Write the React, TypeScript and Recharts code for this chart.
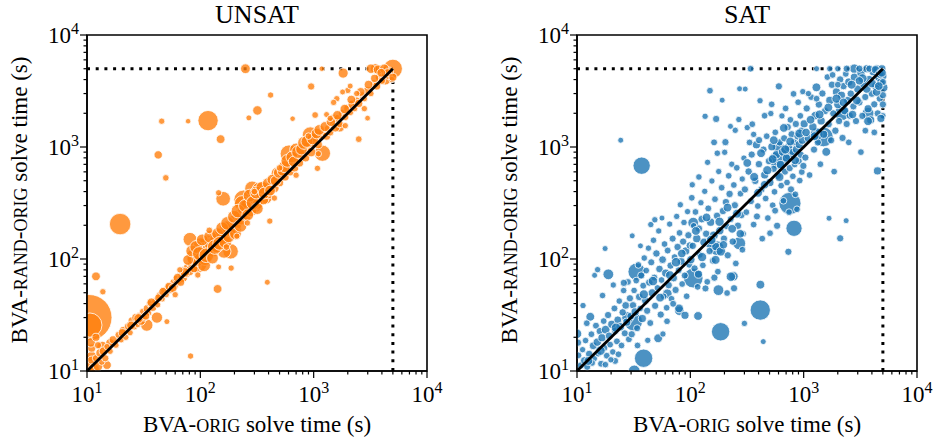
import { ScatterChart, Scatter, XAxis, YAxis, ZAxis, ReferenceLine, ReferenceArea } from "recharts";

const FONT = '"Liberation Serif", "DejaVu Serif", serif';

const ALL_TICKS = [
  10, 20, 30, 40, 50, 60, 70, 80, 90,
  100, 200, 300, 400, 500, 600, 700, 800, 900,
  1000, 2000, 3000, 4000, 5000, 6000, 7000, 8000, 9000, 10000,
];
const MAJOR_TICKS = [10, 100, 1000, 10000];
const TICK_EXP: Record<number, string> = { 10: "1", 100: "2", 1000: "3", 10000: "4" };

const TIMEOUT = 5000;
const TITLES = ["UNSAT", "SAT"];

// [BVA-orig time, BVA-rand-orig time, bubble size]
const unsatPoints: [number, number, number][] = [
  [10.4, 30, 85], [10.6, 25.7, 23], [19.6, 205, 18], [117, 1720, 16], [42.5, 850, 2.2],
  [45.6, 1700, 1], [49.6, 530, 1.1], [78, 1700, 0.6], [12, 70, 2.5], [13.8, 51, 1],
  [82, 13.6, 1], [151, 1175, 2.5], [159, 345, 8], [145, 390, 1], [142, 54, 2.5],
  [390, 62, 0.8], [250, 5000, 3.2], [319, 2120, 3], [268, 1820, 0.8], [417, 2910, 1],
  [410, 218, 1], [950, 3470, 1.5], [1030, 1930, 1.2], [652, 1790, 0.6], [1820, 4570, 3.5],
  [1180, 5000, 0.6], [1195, 880, 10], [2500, 1175, 1.2], [2990, 1810, 0.7], [5000, 5000, 14],
  [1080, 645, 1], [187, 83, 1], [145, 85, 0.8], [50.7, 27.6, 0.8], [41.4, 30, 4.5],
  [33.7, 25.7, 5.5], [17, 17.8, 1], [81, 150, 7], [116, 140, 9], [95, 91, 13],
  [90, 85, 5], [193, 184, 12], [185, 117, 9], [241, 337, 15], [286, 427, 8],
  [234, 314, 9], [606, 870, 12], [935, 1280, 10], [101, 133, 8], [88, 105, 9],
  [162, 117, 7], [11, 13.4, 4], [13.6, 16.5, 4], [16, 17.8, 2.5], [15, 11.3, 2.5],
  [700, 950, 6], [330, 420, 7], [300, 300, 8], [480, 580, 6], [380, 350, 5],
  [3500, 5000, 3.5], [4300, 4000, 4], [4600, 4700, 3], [1700, 1500, 3], [2200, 2400, 2.5],
  [1500, 1800, 2.5],
  [10.5, 11, 3], [11, 12.5, 2], [11.5, 10.5, 4], [12, 13, 1.5], [12.5, 11, 3],
  [13, 14.5, 2], [13.5, 12, 1], [14, 15, 2.5], [14.5, 13, 1.5], [15, 16.5, 1],
  [11, 16, 2], [10.8, 18, 3], [12, 20, 2], [12.5, 17, 1.5], [16, 15, 1],
  [17, 19, 2], [18, 17, 1], [19, 21, 1.5], [20, 19, 1], [21, 23, 2],
  [22, 20, 1], [23, 25, 1.5], [24, 22, 1], [25, 28, 2], [26, 25, 1.5],
  [27, 30, 2], [28, 26, 1], [29, 31, 1.5], [30, 28, 2.5], [31, 34, 1],
  [32, 30, 1.5], [34, 36, 2], [35, 33, 1], [36, 40, 1.5], [38, 37, 2],
  [40, 42, 1.5], [42, 39, 1], [44, 47, 2], [46, 44, 1], [48, 52, 1.5],
  [50, 48, 1], [52, 55, 2], [55, 53, 1.5], [58, 62, 1.5], [60, 57, 1],
  [62, 66, 2], [65, 64, 1.5], [68, 72, 2], [70, 68, 3], [72, 80, 1.5],
  [75, 74, 2], [78, 85, 2.5], [80, 78, 3], [82, 90, 1.5], [85, 100, 4],
  [88, 82, 2], [92, 110, 3], [95, 98, 6], [100, 105, 5], [105, 125, 4],
  [110, 100, 6], [115, 120, 5], [125, 135, 7], [130, 118, 5], [135, 150, 4],
  [140, 130, 6], [150, 165, 6], [160, 150, 5], [170, 190, 7], [185, 170, 4],
  [200, 220, 5], [210, 200, 3], [220, 250, 4], [230, 230, 6], [240, 280, 5],
  [250, 240, 4], [260, 300, 7], [280, 270, 5], [300, 350, 6], [320, 310, 4],
  [340, 380, 5], [360, 340, 4], [380, 420, 4], [400, 380, 3], [420, 460, 3],
  [450, 430, 3], [480, 520, 3], [500, 480, 2], [520, 560, 2.5], [560, 540, 2],
  [600, 650, 3], [620, 600, 2], [650, 700, 2], [680, 650, 2], [720, 800, 3],
  [750, 720, 2], [800, 850, 3], [850, 800, 2], [900, 1000, 4], [950, 900, 3],
  [1000, 1100, 2.5], [1100, 1050, 2], [1150, 1250, 2], [1200, 1300, 3], [1300, 1250, 2],
  [1350, 1450, 2], [1400, 1350, 1.5], [1500, 1600, 2], [1550, 1500, 3], [1650, 1800, 2],
  [1700, 1600, 1.5], [1800, 2000, 2], [1900, 1850, 1.5], [2000, 2200, 2], [2100, 2050, 1.5],
  [2200, 2400, 2.5], [2300, 2200, 1], [2400, 2600, 1.5], [2500, 2450, 2], [2700, 2900, 1.5],
  [2800, 2700, 1], [3000, 3200, 2], [3200, 3000, 1], [3400, 3700, 1.5], [3600, 3500, 2],
  [3800, 4200, 2], [4000, 3900, 1.5], [4300, 4500, 2], [4600, 4300, 1.5], [4900, 4000, 1],
  [2000, 3200, 1], [1600, 2700, 1], [1800, 3100, 0.8], [2100, 3500, 0.8], [1500, 2500, 1],
  [1300, 1950, 0.8], [3200, 5000, 3], [3700, 4900, 3], [4200, 5000, 3], [4500, 4600, 2],
  [5000, 4200, 2],
  [78, 98, 4], [84, 118, 5], [92, 128, 6], [98, 112, 7], [104, 148, 5],
  [108, 88, 6], [113, 108, 8], [122, 158, 6], [128, 102, 5], [134, 128, 8],
  [142, 168, 5], [148, 138, 7], [156, 188, 6], [166, 142, 6], [174, 208, 7],
  [178, 158, 5], [198, 238, 6], [204, 168, 5], [215, 268, 7], [226, 198, 6],
  [248, 298, 6], [262, 248, 5], [272, 368, 6], [292, 318, 7], [312, 392, 6],
  [318, 282, 5], [352, 432, 6], [366, 388, 5], [398, 472, 5], [412, 408, 4],
  [432, 512, 4], [462, 498, 4], [492, 588, 4], [532, 612, 4], [552, 668, 5],
  [586, 752, 6], [642, 812, 5], [666, 742, 4], [728, 902, 6], [782, 958, 5],
  [822, 1088, 6], [872, 1120, 5], [982, 1180, 5], [1060, 1320, 4], [1120, 1420, 4],
  [1260, 1520, 3.5], [1420, 1680, 3], [1620, 1920, 3], [1880, 2180, 3], [2150, 2650, 2.5],
  [2600, 3100, 2.5], [3050, 3600, 2.5], [3450, 4100, 2], [3950, 4600, 2.5],
  [20.5, 22, 2], [24.5, 25.5, 2.5], [28.5, 29.5, 3], [33, 31, 2], [37, 41, 2.5],
  [43, 45, 2], [47, 51, 2.5], [53, 57, 2], [57, 55, 2.5], [63, 68, 2.5],
  [67, 62, 2], [73, 76, 3],
  [60, 48, 1], [66, 80, 1], [95, 72, 1], [120, 180, 1.2], [170, 128, 1.2],
  [210, 160, 1], [260, 210, 1], [300, 400, 1.2], [450, 350, 1], [500, 650, 1.2],
  [700, 560, 1], [900, 1250, 1.2], [1100, 870, 1], [1400, 1800, 1], [1900, 1550, 1],
  [2400, 3000, 1], [2800, 2200, 1],
];

const satPoints: [number, number, number][] = [
  [37.2, 681, 11.5], [24.3, 1150, 0.8], [33.6, 77, 11.5], [18.9, 73, 4], [31.4, 27.6, 13],
  [38.7, 13, 13], [32, 10, 5], [52, 19.6, 2.5], [106, 67.5, 15], [185, 22.4, 13],
  [414, 35, 16], [757, 314, 19], [822, 188, 10], [1493, 1230, 15], [598, 766, 13],
  [2170, 2000, 8], [177, 52.7, 4], [169, 1780, 1.5], [4480, 612, 2], [2100, 153, 1.5],
  [2370, 220, 0.8], [1675, 231, 0.8], [440, 18.3, 0.8], [300, 26.6, 1], [733, 116, 1.5],
  [415, 59, 2.5], [10, 21.5, 3], [17.7, 124, 0.8], [270, 138, 6], [171, 125, 8],
  [106, 211, 4], [62.7, 49, 3], [80, 34.5, 3], [117, 31, 2.5], [240, 70, 3],
  [757, 870, 7], [1300, 1300, 6], [2800, 5000, 3], [3700, 2000, 5], [5000, 3400, 3.5],
  [150, 140, 5], [28, 30, 5], [600, 1000, 5],
  [10.3, 13.8, 1.2], [10.8, 11.2, 1.5], [11.2, 15.5, 1], [11.6, 12.4, 1.8], [11.9, 18.7, 1.1],
  [12.3, 10.9, 1.4], [12.8, 14.2, 1.6], [13.1, 30.5, 2.5], [13.4, 21.3, 1.2], [13.9, 16.8, 1.9],
  [14.2, 12.9, 1.1], [14.7, 25.4, 1.3], [15.1, 18.1, 2.2], [15.4, 14.3, 1.2], [15.9, 22.7, 1.6],
  [16.3, 11.6, 1.3], [16.6, 19.8, 2], [17.2, 27.9, 1.2], [17.4, 16.1, 1.5], [17.9, 23.4, 2.4],
  [18.3, 13.7, 1.2], [18.8, 31.6, 1.5], [19.2, 20.6, 1.8], [19.6, 17.2, 1.2], [20.3, 26.1, 2.1],
  [20.7, 14.8, 1.1], [21.4, 36.2, 1.3], [21.8, 22.9, 1.7], [22.5, 18.4, 1.3], [22.9, 28.6, 1.9],
  [23.6, 42.1, 1.1], [24.1, 24.8, 2.3], [24.7, 16.9, 1.2], [25.3, 33.4, 1.6], [25.8, 52.3, 1.1],
  [26.4, 21.7, 1.4], [26.9, 38.5, 1.8], [27.5, 27.3, 2], [28.2, 62.4, 1.2], [28.7, 19.2, 1.3],
  [29.3, 44.6, 1.5], [29.8, 30.9, 1.9], [12.2, 26.7, 1.2], [11.3, 38.4, 1], [14.3, 71.5, 0.8],
  [15.2, 80.3, 1], [16.8, 47.2, 1.1], [20.9, 58.6, 1], [25.9, 61.2, 1.5], [21.7, 12.3, 1.3],
  [17.8, 11.4, 1.1], [10.2, 17.9, 1.5], [13.6, 11.8, 1.2], [19.9, 12.6, 1], [23.2, 14.1, 1.2],
  [12.6, 12.3, 2.5], [16.1, 15.2, 3], [22.1, 24.3, 3],
  [30.4, 21.3, 1.5], [31.2, 38.6, 1.6], [31.9, 52.4, 1.1], [32.6, 33.7, 2.1], [33.3, 64.2, 1.2],
  [33.9, 24.1, 1.4], [34.8, 88.5, 1.2], [35.4, 45.9, 1.7], [36.1, 36.2, 1.1], [36.9, 71.3, 1.5],
  [37.7, 29.4, 2], [38.4, 57.8, 1.3], [39.2, 102, 1.1], [40.1, 42.6, 1.8], [40.8, 78.9, 1.2],
  [41.6, 34.5, 1.5], [42.7, 125, 1], [43.4, 61.7, 1.6], [44.3, 26.8, 1.3], [45.2, 93.4, 1.4],
  [46.1, 49.8, 2.2], [47.3, 147, 1.1], [48.1, 68.3, 1.3], [48.9, 38.2, 1.5], [50.2, 112, 1.6],
  [51.3, 55.1, 1.2], [52.6, 178, 1], [53.4, 81.5, 1.7], [54.8, 31.9, 1.5], [55.7, 64.9, 1.2],
  [56.9, 98.7, 1.8], [58.1, 46.3, 1.3], [59.2, 136, 1.2], [60.6, 74.8, 2], [61.8, 36.7, 1.2],
  [63.1, 119, 1.3], [64.4, 58.4, 1.6], [65.7, 205, 1], [66.9, 87.3, 1.5], [68.2, 44.1, 1.2],
  [69.8, 152, 1.4], [71.3, 67.6, 1.8], [72.6, 104, 1.2], [74.1, 52.9, 1.5], [75.8, 240, 1],
  [77.2, 128, 1.6], [78.9, 79.4, 1.3], [80.3, 171, 1.2], [81.6, 305, 1], [83.2, 95.3, 1.9],
  [84.7, 59.8, 1.2], [86.4, 143, 1.5], [87.9, 212, 1.1], [89.3, 71.2, 1.4], [91.2, 118, 2],
  [92.8, 46.5, 1.2], [94.5, 265, 1], [96.1, 163, 1.5], [97.8, 88.9, 1.3], [99.1, 132, 1.7],
  [44.8, 203, 1], [48.6, 224, 1], [56.2, 232, 0.8], [30.7, 161, 0.8], [36.3, 131, 0.8],
  [79.5, 36.2, 2.5], [89.7, 31.4, 2], [62.3, 27.8, 1.2], [70.5, 39.8, 1.3], [57.3, 21.4, 1],
  [34.2, 16.9, 1.2], [42.1, 18.8, 1], [46.8, 63.5, 3], [54.1, 45.2, 2.5], [38.9, 48.3, 2.8],
  [66.1, 71.7, 2.6], [74.8, 93.6, 3], [84.1, 112, 2.4],
  [101, 98.6, 2.2], [103, 352, 1.2], [105, 131, 1.6], [107, 198, 1.1], [109, 82.3, 1.5],
  [111, 263, 1.2], [114, 152, 2.1], [116, 56.4, 1.2], [119, 187, 1.6], [121, 109, 1.3],
  [124, 318, 1], [126, 227, 1.7], [129, 87.8, 1.2], [132, 141, 2.2], [134, 402, 1],
  [138, 168, 1.6], [141, 62.5, 1.2], [144, 283, 1.3], [148, 118, 1.6], [151, 213, 2.1],
  [155, 497, 1], [158, 96.4, 1.3], [161, 162, 2.6], [165, 342, 1.2], [168, 129, 2.1],
  [172, 243, 1.6], [175, 77.1, 1.2], [178, 604, 1], [182, 179, 2.2], [186, 117, 3],
  [189, 433, 1.2], [194, 268, 1.6], [198, 152, 1.5], [201, 897, 1], [206, 322, 1.6],
  [209, 196, 1.2], [214, 108, 1.5], [218, 553, 1.2], [222, 381, 1.6], [227, 227, 1.3],
  [232, 702, 1], [237, 143, 1.6], [242, 458, 1.2], [247, 302, 1.5], [252, 91.2, 1.2],
  [257, 652, 1.2], [263, 198, 1.6], [272, 3310, 0.8], [277, 383, 1.2], [282, 247, 1.6],
  [287, 518, 1], [292, 168, 1.2], [297, 796, 1], [243, 54.8, 1.5], [211, 49.7, 1.2],
  [228, 69.5, 3], [191, 2620, 0.8], [149, 3180, 1.2], [204, 1105, 1.5], [288, 121, 1.2],
  [112, 178, 2.5], [127, 104, 2.8], [139, 235, 2.4], [153, 148, 3], [167, 98.2, 2.6],
  [181, 215, 2.8], [196, 134, 2.2], [213, 288, 2.5], [234, 186, 2.4], [258, 254, 2.6],
  [276, 168, 2.3], [118, 73.2, 2], [136, 54.6, 1.4], [163, 68.1, 1.5], [104, 460, 1],
  [119, 540, 1.1], [142, 730, 1], [173, 880, 1.1], [249, 1410, 1], [268, 1760, 1],
  [226, 1530, 0.8], [135, 1880, 1], [162, 1100, 1.3],
  [303, 418, 1.5], [312, 262, 1.2], [318, 1490, 1], [327, 604, 1.6], [343, 328, 1.3],
  [348, 856, 1.5], [362, 203, 1.2], [374, 498, 1.6], [383, 1046, 2], [394, 297, 1.2],
  [403, 703, 1.6], [412, 2590, 1], [423, 418, 1.6], [431, 152, 1.2], [442, 948, 1.5],
  [453, 563, 2], [462, 347, 1.2], [472, 1248, 1.2], [483, 232, 1.2], [494, 748, 1.6],
  [503, 482, 2.1], [513, 1990, 1], [524, 1004, 2], [533, 302, 1.2], [544, 638, 1.5],
  [553, 398, 1.2], [562, 1352, 1.2], [574, 853, 2], [583, 198, 1.5], [592, 553, 1.5],
  [604, 3480, 1.5], [613, 1098, 1.5], [624, 697, 2.1], [633, 452, 1.2], [643, 1895, 1],
  [654, 904, 2.5], [663, 331, 1.2], [673, 1196, 1.5], [684, 603, 1.5], [693, 2210, 1.2],
  [704, 797, 2.1], [713, 482, 1.2], [724, 1505, 1.5], [734, 996, 2.5], [743, 262, 1.2],
  [753, 648, 1.5], [764, 1748, 1.2], [773, 418, 1.5], [784, 1298, 1.6], [794, 903, 1.5],
  [803, 548, 1.2], [814, 2980, 1.2], [823, 1102, 1.5], [833, 698, 1.2], [844, 378, 1.2],
  [853, 1605, 1.5], [864, 952, 2], [873, 278, 1.2], [883, 1248, 1.6], [894, 2510, 1.2],
  [903, 748, 1.5], [914, 1052, 2], [923, 502, 1.2], [934, 1898, 1.2], [943, 852, 1.5],
  [954, 1402, 1.5], [963, 598, 1.2], [974, 1148, 2], [983, 3120, 1], [994, 678, 1.5],
  [352, 1598, 1.2], [305, 3290, 0.8], [452, 1902, 1.2], [522, 2405, 1.2], [404, 1152, 1.5],
  [362, 1296, 1], [333, 1098, 1.2], [318, 720, 2.4], [366, 540, 2.6], [421, 880, 2.5],
  [478, 620, 2.8], [545, 1150, 2.4], [612, 540, 2.6], [688, 950, 2.8], [761, 1120, 2.5],
  [842, 760, 2.4], [918, 1320, 2.8], [396, 390, 2.5], [452, 460, 2.3], [532, 780, 2.6],
  [668, 1480, 2.4], [387, 240, 1.4], [560, 270, 1.3], [505, 170, 1.2],
  [1010, 1610, 2], [1035, 805, 1.5], [1064, 2210, 1.5], [1102, 1195, 2.2], [1128, 562, 1.2],
  [1163, 2790, 1.2], [1206, 1510, 2.1], [1234, 948, 1.5], [1262, 1905, 2.2], [1296, 3410, 2.5],
  [1334, 1098, 1.5], [1362, 2395, 1.6], [1404, 702, 1.2], [1426, 1710, 2.1], [1463, 3005, 1.5],
  [1502, 1298, 2], [1544, 2095, 1.6], [1583, 905, 2.5], [1618, 4210, 1.2], [1664, 1598, 1.5],
  [1703, 2605, 2.1], [1745, 1148, 1.5], [1776, 3595, 1.6], [1824, 1995, 1.5], [1858, 603, 1.2],
  [1904, 1398, 1.6], [1946, 3105, 2], [2004, 2395, 2.2], [2053, 1705, 1.5], [2098, 4005, 1.6],
  [2154, 2895, 2], [2203, 1205, 1.5], [2247, 3495, 1.6], [2305, 2105, 2], [2352, 4495, 1.2],
  [2396, 1605, 1.5], [2454, 2595, 2.2], [2503, 3805, 2], [2547, 1905, 1.5], [2604, 2995, 1.6],
  [2745, 2305, 1.5], [2806, 4195, 2.1], [2896, 1705, 1.5], [3004, 3295, 2], [3096, 2505, 1.6],
  [3205, 4595, 2.1], [3296, 1895, 1.5], [3404, 3605, 2.2], [3495, 2795, 1.5], [3604, 4995, 2],
  [3704, 2195, 2], [3796, 3995, 2.2], [3904, 1745, 2], [3996, 2995, 1.6], [4104, 4695, 2],
  [4196, 2405, 1.5], [4304, 3495, 2.2], [4396, 4995, 2], [4504, 1995, 1.5], [4596, 4195, 2],
  [4704, 2705, 1.6], [4796, 3795, 2.2], [4900, 4990, 2], [5000, 4300, 2], [5000, 2400, 1.5],
  [5000, 1900, 1], [5000, 2900, 1.5], [5000, 3800, 1.5], [4800, 1800, 2], [3700, 1700, 2.5],
  [3500, 1400, 1.2], [4200, 1350, 1.2], [3200, 900, 1.2], [2500, 1100, 1.2], [1800, 4400, 1.2],
  [2000, 3600, 1.2], [1300, 2700, 1.2], [1100, 3000, 1], [340, 5000, 1.2], [1300, 5000, 0.8],
  [1700, 5000, 1], [2000, 5000, 1], [2400, 5000, 1.5], [3100, 5000, 1.5], [3800, 5000, 1.5],
  [4300, 4900, 2], [1150, 1750, 2.4], [1380, 1950, 2.6], [1650, 2250, 2.5], [1950, 2700, 2.8],
  [2250, 2500, 2.4], [2650, 3600, 2.6], [2950, 2600, 2.5], [3300, 4100, 2.8], [3600, 3300, 2.4],
  [4000, 3700, 2.6], [4400, 3100, 2.4], [4700, 4500, 2.5], [3100, 3900, 2.2], [2700, 1950, 2.2],
  [1250, 1250, 2.5], [1050, 1350, 2.3], [4900, 4600, 2.5], [4600, 3500, 2.4],
];

const toRows = (pts: [number, number, number][]) => pts.map(([x, y, z]) => ({ x, y, z }));

const XTick = (props: any) => {
  const { x, y, payload } = props;
  const v = payload.value;
  const major = MAJOR_TICKS.includes(v);
  return (
    <g>
      <line x1={x} x2={x} y1={y} y2={y + (major ? 7 : 3.5)} stroke="#000" strokeWidth={1.2} />
      {major && (
        <text x={x} y={y + 31} textAnchor="middle" fontSize={23} fontFamily={FONT} fill="#000">
          10<tspan dy={-9} fontSize={16}>{TICK_EXP[v]}</tspan>
        </text>
      )}
    </g>
  );
};

const YTick = (props: any) => {
  const { x, y, payload } = props;
  const v = payload.value;
  const major = MAJOR_TICKS.includes(v);
  return (
    <g>
      <line x1={x - (major ? 7 : 3.5)} x2={x} y1={y} y2={y} stroke="#000" strokeWidth={1.2} />
      {major && (
        <text x={x - 8} y={y + 8} textAnchor="end" fontSize={23} fontFamily={FONT} fill="#000">
          10<tspan dy={-9} fontSize={16}>{TICK_EXP[v]}</tspan>
        </text>
      )}
    </g>
  );
};

function Panel({ points, color, left, width, yWidth }: any) {
  const plotW = 340;
  return (
    <div style={{ position: "absolute", left, top: 0 }}>
      <ScatterChart
        width={width}
        height={441}
        margin={{ top: 35, right: width - yWidth - plotW, bottom: 0, left: 0 }}
      >
        <XAxis
          type="number"
          dataKey="x"
          scale="log"
          domain={[10, 10000]}
          ticks={ALL_TICKS}
          interval={0}
          allowDataOverflow
          height={70}
          tickSize={0}
          tickMargin={0}
          tickLine={false}
          axisLine={{ stroke: "#000", strokeWidth: 1.5 }}
          tick={XTick}
        />
        <YAxis
          type="number"
          dataKey="y"
          scale="log"
          domain={[10, 10000]}
          ticks={ALL_TICKS}
          interval={0}
          allowDataOverflow
          width={yWidth}
          tickSize={0}
          tickMargin={0}
          tickLine={false}
          axisLine={{ stroke: "#000", strokeWidth: 1.5 }}
          tick={YTick}
        />
        <ZAxis type="number" dataKey="z" domain={[0, 100]} range={[12, 1963]} />
        <ReferenceLine
          segment={[{ x: 10, y: TIMEOUT }, { x: TIMEOUT, y: TIMEOUT }]}
          stroke="#000"
          strokeWidth={3}
          strokeDasharray="3 5.7"
          zIndex={550}
        />
        <ReferenceLine
          segment={[{ x: TIMEOUT, y: 10 }, { x: TIMEOUT, y: TIMEOUT }]}
          stroke="#000"
          strokeWidth={3}
          strokeDasharray="3 5.7"
          zIndex={550}
        />
        <Scatter
          data={toRows(points)}
          fill={color}
          fillOpacity={0.8}
          stroke="#fff"
          strokeWidth={0.8}
          isAnimationActive={false}
        />
        <ReferenceLine
          segment={[{ x: 10, y: 10 }, { x: TIMEOUT, y: TIMEOUT }]}
          stroke="#000"
          strokeWidth={2.8}
          zIndex={650}
        />
        <ReferenceArea
          x1={10}
          x2={10000}
          y1={10}
          y2={10000}
          fill="none"
          fillOpacity={0}
          stroke="#000"
          strokeWidth={1.6}
          zIndex={700}
        />
      </ScatterChart>
    </div>
  );
}

const smallCaps = { fontSize: 18 };

export default function App() {
  return (
    <div style={{ position: "absolute", left: 0, top: 0, width: 935, height: 441, background: "#fff" }}>
      <Panel points={unsatPoints} color="#ff7f0e" left={0} width={470} yWidth={87} />
      <Panel points={satPoints} color="#1f77b4" left={470} width={465} yWidth={107} />
      <svg
        width={935}
        height={441}
        style={{ position: "absolute", left: 0, top: 0, pointerEvents: "none" }}
        fontFamily={FONT}
        fill="#000"
      >
        <text x={257} y={23} textAnchor="middle" fontSize={26}>{TITLES[0]}</text>
        <text x={747} y={23} textAnchor="middle" fontSize={26}>{TITLES[1]}</text>
        {[257, 747].map((cx) => (
          <text key={cx} x={cx} y={432} textAnchor="middle" fontSize={23}>
            BVA-<tspan {...smallCaps}>ORIG</tspan> solve time (s)
          </text>
        ))}
        {[27, 517].map((bx) => (
          <text key={bx} transform={`translate(${bx},200) rotate(-90)`} textAnchor="middle" fontSize={23}>
            BVA-<tspan {...smallCaps}>RAND</tspan>-<tspan {...smallCaps}>ORIG</tspan> solve time (s)
          </text>
        ))}
      </svg>
    </div>
  );
}
